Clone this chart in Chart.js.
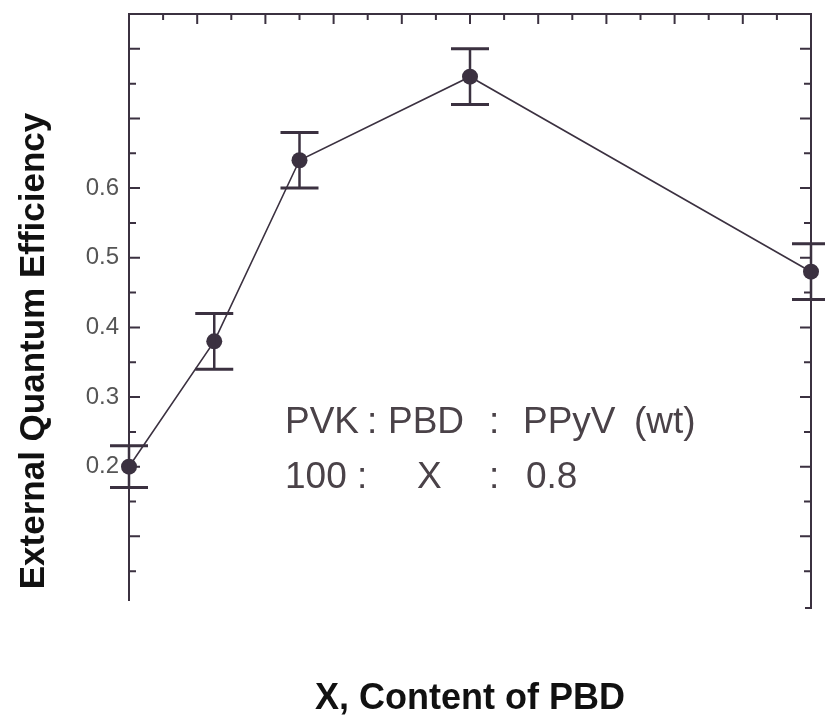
<!DOCTYPE html>
<html lang="en">
<head>
  <meta charset="UTF-8" />
  <title>External Quantum Efficiency vs PBD content</title>
  <script src="https://cdn.jsdelivr.net/npm/chart.js"></script>
  <style>
    body { margin: 0; background: #fff; }
    #wrap { width: 825px; height: 725px; }
  </style>
</head>
<body>
  <div id="wrap"><canvas id="chart" width="825" height="725"></canvas></div>

  <script>
    // values
    const pbdContent = [0, 25, 50, 100, 200];
    const efficiency = [0.20, 0.38, 0.64, 0.76, 0.48];
    const errorBars = [0.03, 0.04, 0.04, 0.04, 0.04];
    const yLabelTicks = [0.2, 0.3, 0.4, 0.5, 0.6];
    const yTitle = 'External Quantum Efficiency';
    const xTitle = 'X, Content of PBD';
    const noteLine1 = ['PVK', ':', 'PBD', ':', 'PPyV', '(wt)'];
    const noteLine2 = ['100 :', 'X', ':', '0.8'];

    const ink = '#3b3140';
    const font = '"Liberation Sans", Arial, sans-serif';

    // error bars with caps
    const errorBarPlugin = {
      id: 'errorBars',
      afterDatasetsDraw(chart) {
        const { ctx, scales: { x, y } } = chart;
        ctx.save();
        ctx.strokeStyle = ink;
        pbdContent.forEach((v, i) => {
          const px = x.getPixelForValue(v);
          const top = y.getPixelForValue(efficiency[i] + errorBars[i]);
          const bot = y.getPixelForValue(efficiency[i] - errorBars[i]);
          ctx.lineWidth = 2.5;
          ctx.beginPath();
          ctx.moveTo(px, top);
          ctx.lineTo(px, bot);
          ctx.stroke();
          ctx.lineWidth = 3;
          ctx.beginPath();
          ctx.moveTo(px - 19, top); ctx.lineTo(px + 19, top);
          ctx.moveTo(px - 19, bot); ctx.lineTo(px + 19, bot);
          ctx.stroke();
        });
        ctx.restore();
      }
    };

    // frame with inward ticks on top, left and right, plus texts
    const framePlugin = {
      id: 'frame',
      afterDraw(chart) {
        const { ctx, chartArea: a, scales: { x, y } } = chart;
        ctx.save();
        ctx.strokeStyle = ink;
        ctx.lineWidth = 2;
        ctx.beginPath();
        ctx.moveTo(a.left, a.bottom - 5);
        ctx.lineTo(a.left, a.top);
        ctx.lineTo(a.right, a.top);
        ctx.lineTo(a.right, a.bottom + 2);
        ctx.lineTo(a.right - 6, a.bottom + 2);
        ctx.stroke();

        y.ticks.forEach(t => {
          const k = Math.round(t.value * 100);
          if (k <= 0 || k >= 85) return;
          const major = k % 10 === 0;
          const py = y.getPixelForValue(t.value);
          const len = major ? 11 : 7;
          ctx.beginPath();
          ctx.moveTo(a.left, py); ctx.lineTo(a.left + len, py);
          ctx.moveTo(a.right, py); ctx.lineTo(a.right - len, py);
          ctx.stroke();
        });
        x.ticks.forEach(t => {
          const k = Math.round(t.value);
          if (k <= 0 || k >= 200) return;
          const major = k % 20 === 0;
          const px = x.getPixelForValue(t.value);
          ctx.beginPath();
          ctx.moveTo(px, a.top); ctx.lineTo(px, a.top + (major ? 10 : 6));
          ctx.stroke();
        });

        // composition note
        ctx.fillStyle = '#4a4248';
        ctx.font = '37px ' + font;
        ctx.textBaseline = 'alphabetic';
        const xs1 = [285, 367, 388, 489, 523, 634];
        noteLine1.forEach((s, i) => ctx.fillText(s, xs1[i], 433));
        const xs2 = [285, 417, 489, 526];
        noteLine2.forEach((s, i) => ctx.fillText(s, xs2[i], 488));

        // y axis title
        ctx.fillStyle = '#111';
        ctx.font = 'bold 35px ' + font;
        ctx.textAlign = 'center';
        ctx.textBaseline = 'middle';
        ctx.translate(34, 351);
        ctx.rotate(-Math.PI / 2);
        ctx.fillText(yTitle, 0, 0);
        ctx.restore();
      }
    };

    new Chart(document.getElementById('chart'), {
      type: 'line',
      data: {
        datasets: [{
          data: pbdContent.map((v, i) => ({ x: v, y: efficiency[i] })),
          borderColor: ink,
          borderWidth: 1.6,
          backgroundColor: ink,
          pointRadius: 8,
          pointBorderWidth: 0,
          pointBackgroundColor: ink,
          tension: 0,
          clip: false
        }]
      },
      options: {
        responsive: false,
        animation: false,
        devicePixelRatio: 1,
        layout: { padding: { top: 14, right: 14, left: 0, bottom: 0 } },
        plugins: { legend: { display: false }, tooltip: { enabled: false } },
        scales: {
          x: {
            type: 'linear',
            min: 0,
            max: 200,
            ticks: { display: false, stepSize: 10 },
            grid: { display: false },
            border: { display: false },
            title: {
              display: true,
              text: xTitle,
              color: '#111',
              font: { family: font, size: 36, weight: 'bold' },
              padding: { top: 0, bottom: 4 }
            },
            afterFit: s => { s.height = 119; s.paddingLeft = 0; s.paddingRight = 0; }
          },
          y: {
            min: 0,
            max: 0.85,
            ticks: {
              stepSize: 0.05,
              autoSkip: false,
              padding: 10,
              color: '#555',
              font: { family: font, size: 24 },
              callback: v => {
                const r = Math.round(v * 100) / 100;
                return yLabelTicks.includes(r) ? r.toFixed(1) : '';
              }
            },
            grid: { display: false, drawTicks: false },
            border: { display: false },
            afterFit: s => { s.width = 129; s.paddingTop = 0; s.paddingBottom = 0; }
          }
        }
      },
      plugins: [errorBarPlugin, framePlugin]
    });
  </script>
</body>
</html>
